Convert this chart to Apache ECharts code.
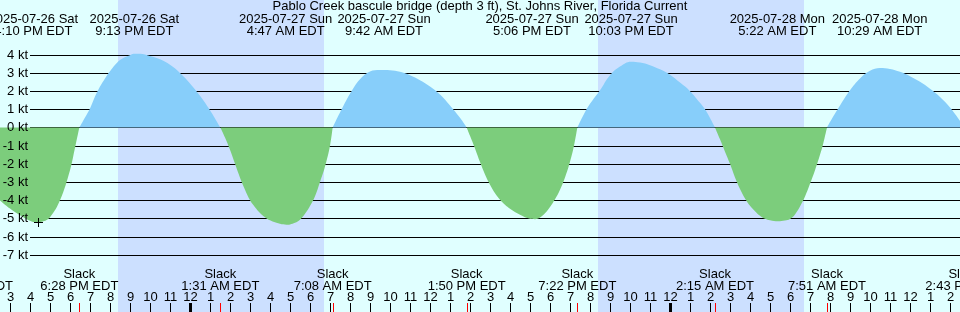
<!DOCTYPE html>
<html><head><meta charset="utf-8">
<script src="https://cdn.jsdelivr.net/npm/echarts@6/dist/echarts.min.js"></script>
<style>html,body{margin:0;padding:0;background:#e0ffff}#c{width:960px;height:312px}</style>
</head><body><div id="c"></div>
<script>
// ---------- data (hours counted from 2025-07-26 00:00 EDT) ----------
const titleText = 'Pablo Creek bascule bridge (depth 3 ft), St. Johns River, Florida Current';

// current speed (kt, + = flood, - = ebb); 0 at each slack
const curveHours = [
  14.5, 15.0, 15.5, 16.0, 16.33, 16.67, 17.0, 17.5, 18.0, 18.25, 18.467,
  18.75, 19.0, 19.25, 19.5, 19.75, 20.0, 20.5, 21.0, 21.25, 21.5, 22.0, 22.5, 23.0, 23.5, 24.0, 24.5, 25.0, 25.25, 25.517,
  25.75, 26.0, 26.25, 26.5, 26.75, 27.0, 27.25, 27.5, 27.75, 28.0, 28.5, 28.83, 29.0, 29.25, 29.5, 29.75, 30.0, 30.25, 30.5, 30.75, 31.0, 31.133,
  31.5, 32.0, 32.5, 33.0, 33.5, 34.0, 34.5, 35.0, 35.5, 36.0, 36.5, 37.0, 37.5, 37.833,
  38.0, 38.25, 38.5, 38.75, 39.0, 39.25, 39.5, 39.75, 40.0, 40.5, 41.0, 41.25, 41.5, 41.75, 42.0, 42.25, 42.5, 42.75, 43.0, 43.2, 43.367,
  43.75, 44.0, 44.5, 45.0, 45.5, 46.05, 46.5, 47.0, 47.5, 48.0, 48.5, 49.0, 49.5, 49.75, 50.0, 50.25,
  50.5, 50.75, 51.0, 51.25, 51.5, 51.75, 52.0, 52.25, 52.5, 52.75, 53.0, 53.4, 53.75, 54.0, 54.25, 54.5, 54.75, 55.0, 55.25, 55.5, 55.65, 55.85,
  56.0, 56.5, 57.0, 57.5, 58.0, 58.5, 59.0, 59.5, 60.0, 60.5, 61.0, 61.5, 62.0, 62.5];
const curveKnots = [
  -4.01, -4.46, -4.83, -5.13, -5.22, -5.16, -4.93, -4.0, -2.35, -1.12, 0,
  0.55, 1.05, 1.7, 2.25, 2.7, 3.1, 3.71, 3.98, 4.05, 4.05, 3.93, 3.75, 3.45, 3.0, 2.42, 1.74, 0.95, 0.5, 0,
  -0.55, -1.22, -2.0, -2.76, -3.42, -4.0, -4.38, -4.7, -4.93, -5.1, -5.3, -5.35, -5.33, -5.24, -5.07, -4.75, -4.32, -3.78, -3.0, -2.15, -1.0, 0,
  0.82, 1.85, 2.65, 3.08, 3.16, 3.15, 3.06, 2.88, 2.6, 2.25, 1.81, 1.21, 0.53, 0,
  -0.45, -1.15, -1.9, -2.58, -3.15, -3.62, -3.98, -4.25, -4.47, -4.8, -5.02, -5.04, -4.95, -4.72, -4.37, -3.95, -3.42, -2.75, -1.88, -1.0, 0,
  0.85, 1.3, 2.05, 2.88, 3.35, 3.62, 3.57, 3.43, 3.2, 2.9, 2.47, 2.0, 1.36, 1.0, 0.52, 0,
  -0.65, -1.33, -2.0, -2.75, -3.38, -3.9, -4.3, -4.6, -4.85, -5.02, -5.1, -5.16, -5.12, -5.03, -4.78, -4.35, -3.8, -3.1, -2.35, -1.5, -0.93, 0,
  0.3, 1.21, 2.05, 2.7, 3.12, 3.27, 3.22, 3.06, 2.82, 2.51, 2.13, 1.68, 1.1, 0.37];

const extremeHours = [16.167, 21.217, 28.783, 33.7, 41.1, 46.05, 53.367, 58.483];
const extremeDates = ['2025-07-26 Sat', '2025-07-26 Sat', '2025-07-27 Sun', '2025-07-27 Sun',
  '2025-07-27 Sun', '2025-07-27 Sun', '2025-07-28 Mon', '2025-07-28 Mon'];
const extremeTimes = ['4:10 PM EDT', '9:13 PM EDT', '4:47 AM EDT', '9:42 AM EDT',
  '5:06 PM EDT', '10:03 PM EDT', '5:22 AM EDT', '10:29 AM EDT'];

const slackHours = [13.2, 18.467, 25.517, 31.133, 37.833, 43.367, 50.25, 55.85, 62.717];
const slackTimes = ['1:12 PM EDT', '6:28 PM EDT', '1:31 AM EDT', '7:08 AM EDT', '1:50 PM EDT',
  '7:22 PM EDT', '2:15 AM EDT', '7:51 AM EDT', '2:43 PM EDT'];

const nightStart = [20.4, 44.4];
const nightEnd = [30.7, 54.7];

const gridKnots = [4, 3, 2, 1, 0, -1, -2, -3, -4, -5, -6, -7];
const hourTicks = [];
for (let h = 15; h <= 62; h++) hourTicks.push(h);
const hourLabels = hourTicks.map(h => String((h % 12) || 12));

const plusMark = [16.4, -5.2];

// ---------- layout ----------
const X_MIN = 14.5, X_MAX = 62.5;
const ZERO_PX = 127.5, PX_PER_KT = 18.18, H = 312;
const Y_MAX = ZERO_PX / PX_PER_KT, Y_MIN = -(H - ZERO_PX) / PX_PER_KT;
const FONT = '13px "Liberation Sans", Arial, sans-serif';
const BLACK = '#000';
const FLOOD = '#87cefa', EBB = '#7ccd7c';

const floodData = curveHours.map((h, i) => [h, curveKnots[i] >= 0 ? curveKnots[i] : null]);
const ebbData = curveHours.map((h, i) => [h, curveKnots[i] <= 0 ? curveKnots[i] : null]);

const chart = echarts.init(document.getElementById('c'), null, {renderer: 'canvas'});

function txt(x, y, s, align) {
  return {type: 'text', x: x, y: y, style: {text: s, font: FONT, fill: BLACK, align: align || 'center', verticalAlign: 'middle'}};
}
function lobe(data, color) {
  return {type: 'line', z: 2, silent: true, symbol: 'none', smooth: 0.4, connectNulls: false,
    data: data, lineStyle: {width: 0, color: color}, itemStyle: {color: color},
    areaStyle: {origin: 0, opacity: 1, color: color}};
}

chart.setOption({
  animation: false,
  backgroundColor: '#e0ffff',
  title: {text: titleText, left: 'center', top: 0, padding: [0, 0, 0, 0],
    textStyle: {fontSize: 13, fontWeight: 'normal', color: BLACK, fontFamily: '"Liberation Sans", Arial, sans-serif'}},
  grid: {left: 0, right: 0, top: 0, bottom: 0},
  xAxis: {type: 'value', min: X_MIN, max: X_MAX, show: false, splitLine: {show: false}},
  yAxis: {type: 'value', min: Y_MIN, max: Y_MAX, show: false, splitLine: {show: false}},
  series: [
    { // night shading
      type: 'line', data: [], z: 0, silent: true,
      markArea: {silent: true, itemStyle: {color: '#cce0ff'},
        data: nightStart.map((s, i) => [{xAxis: s}, {xAxis: nightEnd[i]}])}
    },
    { // grid lines (under the fill)
      type: 'custom', z: 1, silent: true, clip: false,
      data: gridKnots.map(v => [X_MIN, v]),
      renderItem: function (params, api) {
        const y = Math.round(api.coord([X_MIN, api.value(1)])[1]) + 0.5;
        return {type: 'line', shape: {x1: 30, y1: y, x2: api.getWidth(), y2: y}, style: {stroke: BLACK, lineWidth: 1}};
      }
    },
    lobe(floodData, FLOOD),
    lobe(ebbData, EBB),
    { // grid labels (over the fill)
      type: 'custom', z: 3, silent: true, clip: false,
      data: gridKnots.map(v => [X_MIN, v]),
      renderItem: function (params, api) {
        const y = Math.round(api.coord([X_MIN, api.value(1)])[1]) + 0.5;
        return txt(28, y, api.value(1) + ' kt', 'right');
      }
    },
    { // extremes (top)
      type: 'custom', z: 3, silent: true, clip: false,
      data: extremeHours.map((h, i) => [h, 0, i]),
      renderItem: function (params, api) {
        const x = api.coord([api.value(0), 0])[0];
        const i = api.value(2);
        return {type: 'group', children: [txt(x, 19.5, extremeDates[i]), txt(x, 31.5, extremeTimes[i])]};
      }
    },
    { // slack (bottom)
      type: 'custom', z: 3, silent: true, clip: false,
      data: slackHours.map((h, i) => [h, 0, i]),
      renderItem: function (params, api) {
        const x = api.coord([api.value(0), 0])[0];
        const i = api.value(2);
        const xr = Math.round(x) + 0.5;
        return {type: 'group', children: [
          txt(x, 274.5, 'Slack'), txt(x, 286, slackTimes[i]),
          {type: 'line', shape: {x1: xr, y1: 303, x2: xr, y2: 312}, style: {stroke: '#ff0000', lineWidth: 1}}
        ]};
      }
    },
    { // hour ticks
      type: 'custom', z: 3, silent: true, clip: false,
      data: hourTicks.map((h, i) => [h, 0, i]),
      renderItem: function (params, api) {
        const h = api.value(0);
        const x = Math.round(api.coord([h, 0])[0]) + 0.5;
        const mid = h % 24 === 0;
        return {type: 'group', children: [
          txt(x, 297.5, hourLabels[api.value(2)]),
          {type: 'line', shape: {x1: x, y1: 303, x2: x, y2: 312}, style: {stroke: BLACK, lineWidth: mid ? 3 : 1}}
        ]};
      }
    },
    { // plus marker
      type: 'custom', z: 4, silent: true, clip: false,
      data: [plusMark],
      renderItem: function (params, api) {
        const p = api.coord([api.value(0), api.value(1)]);
        const x = Math.round(p[0]) + 0.5, y = Math.round(p[1]) + 0.5;
        return {type: 'group', children: [
          {type: 'line', shape: {x1: x - 4.5, y1: y, x2: x + 4.5, y2: y}, style: {stroke: BLACK, lineWidth: 1}},
          {type: 'line', shape: {x1: x, y1: y - 4.5, x2: x, y2: y + 4.5}, style: {stroke: BLACK, lineWidth: 1}}
        ]};
      }
    }
  ]
});
</script>
</body></html>
